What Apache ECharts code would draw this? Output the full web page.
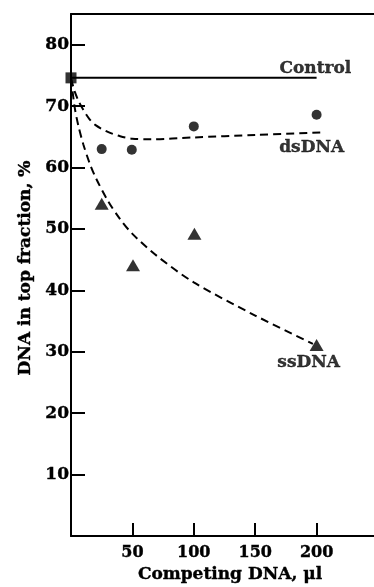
<!DOCTYPE html>
<html>
<head>
<meta charset="utf-8">
<script src="https://cdn.jsdelivr.net/npm/echarts@6/dist/echarts.min.js"></script>
<style>
  html, body { margin: 0; padding: 0; background: #fff; }
  #chart { width: 374px; height: 587px; }
</style>
</head>
<body>
<div id="chart"></div>
<script>
const controlPoint = [[0, 74.6]];
const controlLine = [[0, 74.6], [200, 74.6]];

const dsPoints = [[25, 63.0], [49.5, 62.9], [100, 66.7], [200, 68.6]];
const ssPoints = [[25, 54.1], [50.5, 44.1], [100.5, 49.2], [200, 31.1]];

// hand drawn fitted curves (dashed)
const dsCurve = [[0, 74.5], [3, 72.4], [6, 70.9], [10, 69.4], [15, 67.9], [20, 66.9], [30, 65.8], [40, 65.1], [50, 64.7], [65, 64.6], [100, 64.9], [150, 65.3], [204, 65.7]];
const ssCurve = [[0, 74.5], [3, 69.8], [6, 66.8], [10, 63.8], [15, 60.8], [20, 58.4], [30, 54.6], [40, 51.6], [50, 49.2], [70, 45.6], [100, 41.3], [150, 35.9], [197, 31.3]];

const curveLabels = [[199, 76.1, "Control"], [196, 63.3, "dsDNA"], [193.5, 28.2, "ssDNA"]];

const xTicks = [50, 100, 150, 200];
const yTicks = [10, 20, 30, 40, 50, 60, 70, 80];

const SERIF = "DejaVu Serif";
const chart = echarts.init(document.getElementById("chart"));

const dash = { color: "#000", width: 2, type: [8, 5] };
const boldText = { color: "#000", fontFamily: SERIF, fontWeight: "bold", textBorderColor: "#000", textBorderWidth: 0.4 };

chart.setOption({
  animation: false,
  backgroundColor: "#fff",
  grid: { left: 71, top: 14, width: 307, height: 522, outerBoundsMode: "none" },
  xAxis: [{
    type: "value", min: 0, max: 250, interval: 50,
    axisLine: { lineStyle: { color: "#000", width: 2 } },
    axisTick: { inside: true, length: 13, lineStyle: { color: "#000", width: 2 } },
    splitLine: { show: false },
    axisLabel: {
      ...boldText, fontSize: 16, margin: 9,
      formatter: v => (xTicks.includes(v) ? String(v) : ""),
    },
    name: "Competing DNA, μl", nameLocation: "middle", nameGap: 25,
    nameTextStyle: { ...boldText, fontSize: 17, padding: [0, 0, 0, 11] },
  }, {
    type: "value", position: "top", min: 0, max: 250,
    axisLine: { lineStyle: { color: "#000", width: 2 } },
    axisTick: { show: false }, axisLabel: { show: false }, splitLine: { show: false },
  }],
  yAxis: {
    type: "value", min: 0, max: 85, interval: 10,
    axisLine: { lineStyle: { color: "#000", width: 2 } },
    axisTick: { inside: true, length: 14, lineStyle: { color: "#000", width: 2 } },
    splitLine: { show: false },
    axisLabel: {
      ...boldText, fontSize: 17, margin: 2,
      formatter: v => (yTicks.includes(v) ? String(v) : ""),
    },
    name: "DNA in top fraction, %", nameLocation: "middle", nameGap: 36,
    nameTextStyle: { ...boldText, fontSize: 17, padding: [0, 0, 0, 14] },
  },
  series: [
    { type: "line", data: controlLine, showSymbol: false, lineStyle: { color: "#000", width: 2 }, silent: true },
    { type: "line", data: dsCurve, smooth: 0.3, showSymbol: false, lineStyle: dash, silent: true },
    { type: "line", data: ssCurve, smooth: 0.3, showSymbol: false, lineStyle: dash, silent: true },
    { type: "scatter", data: controlPoint, symbol: "rect", symbolSize: 11, itemStyle: { color: "#000" } },
    { type: "scatter", data: dsPoints, symbol: "circle", symbolSize: 10, itemStyle: { color: "#000" } },
    { type: "scatter", data: ssPoints, symbol: "triangle", symbolSize: [14, 12], itemStyle: { color: "#000" } },
    {
      type: "scatter", data: curveLabels, symbolSize: 0, silent: true,
      label: { show: true, position: "inside", formatter: p => p.value[2], ...boldText, fontSize: 17 },
    },
  ],
});
</script>
</body>
</html>
